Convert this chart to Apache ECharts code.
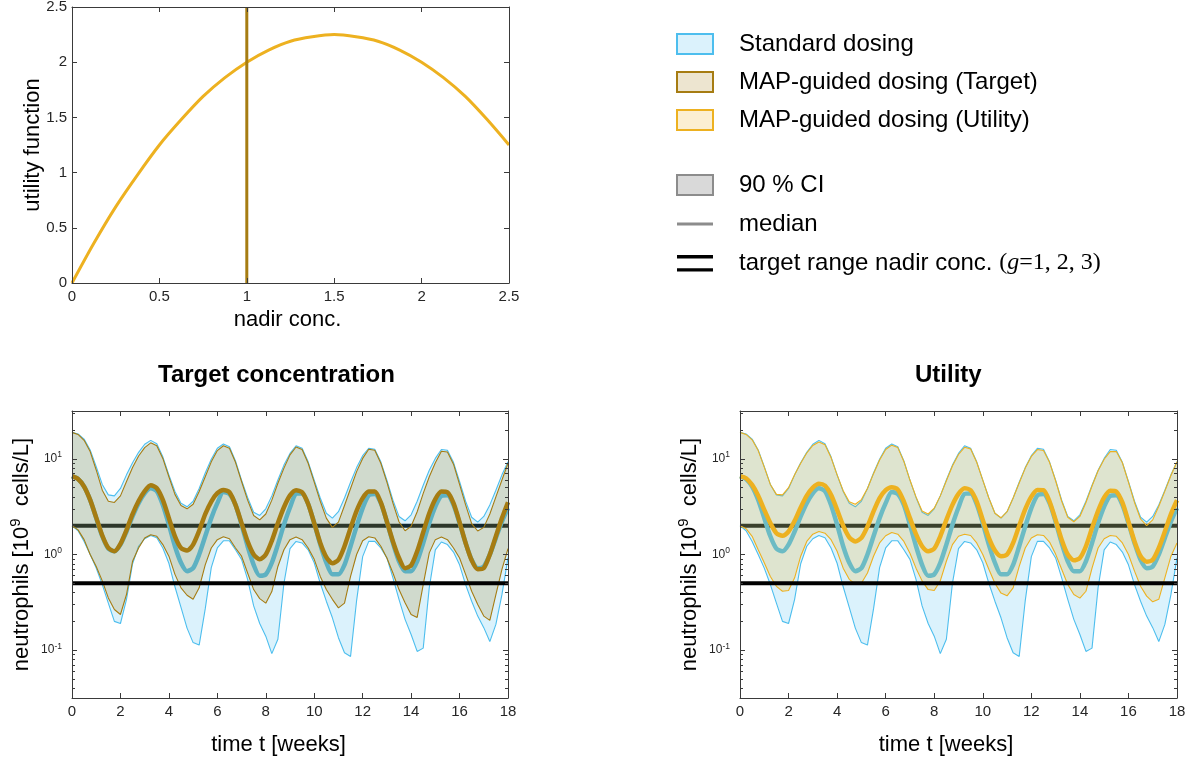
<!DOCTYPE html>
<html>
<head>
<meta charset="utf-8">
<script src="https://cdn.jsdelivr.net/npm/echarts@6/dist/echarts.min.js"></script>
<style>
html,body{margin:0;padding:0;background:#fff;}
#chart{width:1195px;height:761px;}
</style>
</head>
<body>
<div id="chart"></div>
<script>
// ---------------- data ----------------
const nadirConc = [0,0.125,0.25,0.375,0.5,0.625,0.75,0.875,1,1.125,1.25,1.375,1.5,1.625,1.75,1.875,2,2.125,2.25,2.375,2.5];
const utilityValues = [0,0.36,0.69,0.98,1.25,1.48,1.69,1.86,2.0,2.11,2.19,2.23,2.25,2.23,2.19,2.11,2.0,1.86,1.69,1.48,1.25];
const targetNadir = 1;

const weeks = [0,0.25,0.5,0.75,1,1.25,1.5,1.75,2,2.25,2.5,2.75,3,3.25,3.5,3.75,4,4.25,4.5,4.75,5,5.25,5.5,5.75,6,6.25,6.5,6.75,7,7.25,7.5,7.75,8,8.25,8.5,8.75,9,9.25,9.5,9.75,10,10.25,10.5,10.75,11,11.25,11.5,11.75,12,12.25,12.5,12.75,13,13.25,13.5,13.75,14,14.25,14.5,14.75,15,15.25,15.5,15.75,16,16.25,16.5,16.75,17,17.25,17.5,17.75,18];

const stdUpper = [
18.9,18.2,16.1,12.4, 8.3,5.4,4.2,4.1, 4.9,6.8,9.1,11.7, 14.2,15.6,14.4,10.5,
6.8,4.55,3.44,3.15, 3.6,4.9,7.1,9.9, 12.9,14.3,13.4,9.5, 6.0,3.95,2.77,2.56,
3.0,4.1,6.0,8.6, 11.4,13.7,12.9,9.3, 6.0,3.9,2.7,2.4, 2.8,3.9,5.7,8.1,
10.8,12.9,12.6,9.3, 6.0,3.7,2.5,2.25, 2.6,3.6,5.3,7.6, 10.1,12.5,12.3,9.2,
5.8,3.6,2.45,2.18, 2.5,3.3,4.7,6.8, 9.3];
const stdMedian = [
6.6,6.15,5.13,3.72, 2.4,1.55,1.15,1.08, 1.27,1.74,2.5,3.44, 4.37,4.93,4.6,3.3,
2.05,1.22,0.82,0.67, 0.72,1.0,1.55,2.4, 3.44,4.5,4.3,3.3, 2.05,1.22,0.78,0.6,
0.62,0.82,1.27,2.05, 3.1,4.3,4.35,3.37, 2.13,1.27,0.82,0.62, 0.62,0.78,1.22,1.97,
3.05,4.15,4.3,3.44, 2.2,1.32,0.85,0.67, 0.67,0.85,1.32,2.13, 3.17,4.1,4.15,3.3,
2.13,1.32,0.88,0.72, 0.75,1.0,1.49,2.21, 3.05];
const stdLower = [
2.0,1.77,1.37,1.0, 0.72,0.485,0.31,0.2, 0.19,0.34,0.8,1.22, 1.46,1.58,1.5,1.17,
0.81,0.46,0.28,0.17, 0.12,0.113,0.27,0.73, 1.17,1.39,1.39,1.12, 0.89,0.55,0.29,0.19,
0.14,0.092,0.13,0.5, 1.15,1.37,1.32,1.12, 0.82,0.5,0.325,0.218, 0.135,0.094,0.086,0.33,
0.95,1.37,1.37,1.17, 0.92,0.57,0.34,0.21, 0.146,0.097,0.105,0.45, 1.12,1.35,1.27,1.06,
0.78,0.485,0.325,0.227, 0.172,0.123,0.186,0.38, 0.92];

const tgtUpper = [
18.9,18.0,15.6,11.9, 7.65,4.7,3.6,3.5, 4.1,5.8,8.1,10.7, 13.1,14.7,13.7,10.1,
6.5,4.25,3.25,3.0, 3.35,4.55,6.5,9.3, 12.2,13.7,12.9,9.2, 5.8,3.7,2.56,2.3,
2.65,3.7,5.55,8.0, 11.0,13.3,12.5,9.0, 5.7,3.6,2.4,1.92, 2.18,3.25,4.9,7.35,
10.1,12.6,12.3,9.0, 5.7,3.45,2.2,1.77, 1.97,2.8,4.35,6.5, 9.1,12.0,11.8,8.8,
5.4,3.3,2.1,1.76, 1.92,2.65,4.0,6.0, 9.0];
const tgtMedian = [
6.6,6.15,5.13,3.72, 2.43,1.58,1.17,1.08, 1.29,1.8,2.64,3.62, 4.6,5.3,4.93,3.72,
2.4,1.55,1.17,1.1, 1.27,1.77,2.64,3.58, 4.37,4.73,4.47,3.3, 2.13,1.37,1.0,0.89,
1.0,1.39,2.13,3.12, 4.15,4.7,4.47,3.37, 2.13,1.32,0.94,0.81, 0.88,1.22,1.89,2.86,
3.88,4.55,4.55,3.5, 2.21,1.37,0.92,0.72, 0.77,1.08,1.71,2.7, 3.8,4.55,4.47,3.44,
2.18,1.32,0.87,0.7, 0.72,1.0,1.55,2.4, 3.52];
const tgtLower = [
2.0,1.81,1.43,1.0, 0.75,0.53,0.352,0.266, 0.236,0.382,0.85,1.17, 1.49,1.61,1.55,1.27,
0.96,0.62,0.448,0.375, 0.34,0.448,0.78,1.17, 1.43,1.53,1.46,1.17, 0.96,0.64,0.43,0.346,
0.31,0.41,0.75,1.12, 1.43,1.52,1.43,1.17, 0.89,0.59,0.43,0.34, 0.277,0.31,0.59,1.0,
1.39,1.53,1.49,1.22, 0.92,0.64,0.43,0.313, 0.236,0.22,0.485,1.04, 1.43,1.52,1.43,1.17,
0.92,0.62,0.413,0.3, 0.227,0.205,0.38,0.7, 1.15];

const utlUpper = [
18.9,18.0,15.8,12.2, 8.2,5.4,4.25,4.2, 5.0,6.8,9.0,11.5, 13.8,15.0,14.0,10.3,
6.8,4.65,3.55,3.35, 3.75,4.9,7.0,9.7, 12.5,13.9,13.1,9.4, 6.0,4.0,2.85,2.65,
3.05,4.1,5.9,8.4, 11.1,13.2,12.7,9.2, 6.0,3.9,2.7,2.42, 2.8,3.9,5.6,8.0,
10.6,12.5,12.2,9.2, 5.9,3.6,2.45,2.2, 2.5,3.5,5.2,7.5, 9.9,11.9,11.9,9.1,
5.7,3.5,2.35,2.0, 2.3,3.2,4.6,6.7, 9.3];
const utlMedian = [
6.6,6.27,5.34,4.12, 2.93,2.13,1.67,1.57, 1.74,2.25,3.1,4.12, 5.0,5.5,5.24,4.2,
2.93,2.0,1.51,1.37, 1.49,1.96,2.82,3.88, 4.7,5.06,4.77,3.58, 2.4,1.63,1.22,1.08,
1.15,1.55,2.3,3.3, 4.3,4.93,4.7,3.58, 2.3,1.49,1.1,0.96, 1.0,1.32,2.0,2.98,
4.03,4.73,4.7,3.58, 2.3,1.43,1.0,0.87, 0.92,1.22,1.89,2.86, 3.95,4.65,4.55,3.5,
2.21,1.37,0.96,0.84, 0.88,1.17,1.74,2.64, 3.69];
const utlLower = [
2.0,1.86,1.55,1.12, 0.82,0.59,0.465,0.413, 0.42,0.57,0.96,1.37, 1.63,1.74,1.67,1.43,
1.08,0.72,0.55,0.49, 0.5,0.64,0.96,1.32, 1.57,1.7,1.63,1.37, 1.03,0.72,0.53,0.43,
0.42,0.53,0.85,1.27, 1.55,1.63,1.58,1.32, 1.0,0.7,0.5,0.395, 0.37,0.448,0.75,1.17,
1.49,1.61,1.58,1.35, 1.01,0.7,0.485,0.382, 0.35,0.413,0.72,1.17, 1.46,1.58,1.55,1.32,
1.0,0.67,0.465,0.367, 0.32,0.34,0.57,0.96, 1.32];

const targetRange = [0.5, 2];           // nadir target range lines
const weekTicks = 2;
const logMajorTicks = [0.1, 1, 10];
const logMinorTicks = [0.04,0.05,0.06,0.07,0.08,0.09,0.2,0.3,0.4,0.5,0.6,0.7,0.8,0.9,2,3,4,5,6,7,8,9,20,30];

const legendTop = ['Standard dosing','MAP-guided dosing (Target)','MAP-guided dosing (Utility)'];
const legendBottom = ['90 % CI','median','target range nadir conc. (g=1, 2, 3)'];

// ---------------- styles ----------------
const FONT = '"Liberation Sans", Arial, Helvetica, sans-serif';
const SERIF = '"Liberation Serif", "DejaVu Serif", serif';
const AX = '#3a3a3a';
const LBL = '#262626';
const C_STD = '#4DBEEE', F_STD = 'rgba(77,190,238,0.2)';
const C_TGT = '#A67C12', F_TGT = 'rgba(166,124,18,0.2)';
const C_UTL = '#EDB120', F_UTL = 'rgba(237,177,32,0.2)';
const yLogMin = Math.pow(10, -1.5), yLogMax = Math.pow(10, 1.5);

const pairs = (xs, ys) => xs.map((x, i) => [x, ys[i]]);

function xBottom(gridIndex, min, max, interval, name, nameGap, namePad) {
  return {
    type: 'value', gridIndex, position: 'bottom', min, max, interval,
    name, nameLocation: 'middle', nameGap, nameMoveOverlap: false,
    nameTextStyle: {fontSize: 22, color: '#000', fontFamily: FONT, padding: namePad},
    axisLine: {show: true, onZero: false, lineStyle: {color: AX, width: 1}},
    axisTick: {show: true, inside: true, length: 5, lineStyle: {color: AX, width: 1}},
    axisLabel: {show: true, margin: 6, fontSize: 15, color: LBL, fontFamily: FONT},
    splitLine: {show: false}, minorTick: {show: false}, z: 20
  };
}
function xTop(gridIndex, min, max, interval) {
  return {
    type: 'value', gridIndex, position: 'top', min, max, interval,
    axisLine: {show: true, onZero: false, lineStyle: {color: AX, width: 1}},
    axisTick: {show: true, inside: true, length: 5, lineStyle: {color: AX, width: 1}},
    axisLabel: {show: false}, splitLine: {show: false}, z: 20
  };
}
function logAxis(gridIndex, position, major, withLabels, name) {
  const a = {
    type: 'log', logBase: 10, gridIndex, position, min: yLogMin, max: yLogMax, z: 20,
    axisLine: {show: major, onZero: false, lineStyle: {color: AX, width: 1}},
    axisTick: {show: true, inside: true, length: major ? 5 : 3,
      customValues: major ? logMajorTicks : logMinorTicks, lineStyle: {color: AX, width: 1}},
    axisLabel: {show: false},
    splitLine: {show: false}, minorTick: {show: false}
  };
  if (withLabels) {
    a.axisLabel = {
      show: true, customValues: logMajorTicks, margin: 10,
      formatter: v => '{b|10}{s|' + Math.round(Math.log10(v)) + '}',
      rich: {
        b: {fontSize: 12, fontFamily: FONT, color: LBL},
        s: {fontSize: 8.5, fontFamily: FONT, color: LBL, padding: [0, 0, 8, 0]}
      }
    };
    a.name = name;
    a.nameLocation = 'middle';
    a.nameGap = 37;
    a.nameMoveOverlap = false;
    a.nameTextStyle = {
      fontSize: 22, color: '#000', fontFamily: FONT,
      rich: {s: {fontSize: 15, fontFamily: FONT, color: '#000', padding: [0, 0, 12, 0]}}
    };
  }
  return a;
}

// CI band: filled polygon between upper and lower through the axes' scales, plus edge lines
function bandSeries(name, lower, upper, edge, fill, xi, yi, z) {
  return [
    {name, type: 'custom', coordinateSystem: 'cartesian2d', xAxisIndex: xi, yAxisIndex: yi, z,
     clip: true, silent: true, data: [[weeks[0], lower[0]]],
     renderItem: (params, api) => {
       const pts = [];
       for (let i = 0; i < weeks.length; i++) pts.push(api.coord([weeks[i], upper[i]]));
       for (let i = weeks.length - 1; i >= 0; i--) pts.push(api.coord([weeks[i], lower[i]]));
       return {type: 'polygon', shape: {points: pts}, style: {fill: fill, stroke: null}};
     }},
    {name, type: 'line', xAxisIndex: xi, yAxisIndex: yi, z: z + 1, symbol: 'none', showSymbol: false,
     silent: true, data: pairs(weeks, lower), lineStyle: {color: edge, width: 1.1}},
    {name, type: 'line', xAxisIndex: xi, yAxisIndex: yi, z: z + 1, symbol: 'none', showSymbol: false,
     silent: true, data: pairs(weeks, upper), lineStyle: {color: edge, width: 1.1}}
  ];
}
function medianLine(name, vals, color, xi, yi, z) {
  return {name, type: 'line', xAxisIndex: xi, yAxisIndex: yi, z, smooth: 0.25, symbol: 'none',
    showSymbol: false, silent: true, data: pairs(weeks, vals), lineStyle: {color, width: 4.5}};
}
function hLine(level, color, xi, yi, z) {
  return {name: '_range', type: 'line', xAxisIndex: xi, yAxisIndex: yi, z, symbol: 'none',
    showSymbol: false, silent: true,
    data: [[weeks[0], level], [weeks[weeks.length - 1], level]],
    lineStyle: {color, width: 4}};
}

const series = [
  // top-left: utility function
  {name: '_utility', type: 'line', xAxisIndex: 0, yAxisIndex: 0, smooth: 0.3, symbol: 'none',
   showSymbol: false, silent: true, data: pairs(nadirConc, utilityValues),
   lineStyle: {color: C_UTL, width: 3}},
  {name: '_target', type: 'line', xAxisIndex: 0, yAxisIndex: 0, z: 3, symbol: 'none', showSymbol: false,
   silent: true, data: [[targetNadir, 0], [targetNadir, 2.5]], lineStyle: {color: C_TGT, width: 3}},
  // bottom-left
  hLine(targetRange[1], '#000', 2, 2, 1),
  ...bandSeries(legendTop[0], stdLower, stdUpper, C_STD, F_STD, 2, 2, 2),
  medianLine('_stdMedL', stdMedian, C_STD, 2, 2, 3),
  ...bandSeries(legendTop[1], tgtLower, tgtUpper, C_TGT, F_TGT, 2, 2, 4),
  medianLine('_tgtMed', tgtMedian, C_TGT, 2, 2, 6),
  hLine(targetRange[0], '#000', 2, 2, 7),
  // bottom-right
  hLine(targetRange[1], '#000', 4, 6, 1),
  ...bandSeries(legendTop[0], stdLower, stdUpper, C_STD, F_STD, 4, 6, 2),
  medianLine('_stdMedR', stdMedian, C_STD, 4, 6, 3),
  ...bandSeries(legendTop[2], utlLower, utlUpper, C_UTL, F_UTL, 4, 6, 4),
  medianLine('_utlMed', utlMedian, C_UTL, 4, 6, 6),
  hLine(targetRange[0], '#000', 4, 6, 7),
  // legend-only entries
  {name: legendBottom[0], type: 'line', xAxisIndex: 0, yAxisIndex: 0, data: []},
  {name: legendBottom[1], type: 'line', xAxisIndex: 0, yAxisIndex: 0, data: []},
  {name: legendBottom[2], type: 'line', xAxisIndex: 0, yAxisIndex: 0, data: []}
];

const legendText = {
  fontSize: 24, fontFamily: FONT, color: '#000', padding: [0, 0, 0, 21], lineHeight: 20,
  rich: {
    n: {fontSize: 24, fontFamily: FONT, color: '#000', lineHeight: 20},
    m: {fontSize: 24, fontFamily: SERIF, color: '#000', lineHeight: 20},
    i: {fontSize: 24, fontFamily: SERIF, fontStyle: 'italic', color: '#000', lineHeight: 20}
  }
};

const option = {
  animation: false,
  backgroundColor: '#fff',
  title: [
    {text: 'Target concentration', left: 158, top: 363, padding: 0,
     textStyle: {fontSize: 24, fontWeight: 'bold', fontFamily: FONT, color: '#000'}},
    {text: 'Utility', left: 915, top: 363, padding: 0,
     textStyle: {fontSize: 24, fontWeight: 'bold', fontFamily: FONT, color: '#000'}}
  ],
  legend: [
    {orient: 'vertical', left: 676, top: 32, padding: 0, itemWidth: 36, itemHeight: 20, itemGap: 14,
     selectedMode: false, textStyle: legendText,
     data: [
       {name: legendTop[0], icon: 'rect', itemStyle: {color: F_STD, borderColor: C_STD, borderWidth: 2}},
       {name: legendTop[1], icon: 'rect', itemStyle: {color: F_TGT, borderColor: C_TGT, borderWidth: 2}},
       {name: legendTop[2], icon: 'rect', itemStyle: {color: F_UTL, borderColor: C_UTL, borderWidth: 2}}
     ]},
    {orient: 'vertical', left: 676, top: 173, padding: 0, itemWidth: 36, itemHeight: 20, itemGap: 15,
     selectedMode: false, textStyle: legendText,
     formatter: n => n === legendBottom[2]
        ? '{n|target range nadir conc. }{m|(}{i|g}{m|=1, 2, 3)}' : n,
     data: [
       {name: legendBottom[0], icon: 'rect', itemStyle: {color: '#D9D9D9', borderColor: '#8C8C8C', borderWidth: 2}},
       {name: legendBottom[1], icon: 'path://M0,0h0.01v0.01h-0.01z M0,20h0.01v0.01h-0.01z M0,8.6H36V11.4H0Z',
        itemStyle: {color: '#8C8C8C', borderWidth: 0}},
       {name: legendBottom[2], icon: 'path://M0,0h0.01v0.01h-0.01z M0,20h0.01v0.01h-0.01z M0,2.1H36V5.4H0Z M0,15.3H36V18.6H0Z',
        itemStyle: {color: '#000', borderWidth: 0}}
     ]}
  ],
  grid: [
    {left: 72, top: 7, width: 437, height: 276, outerBoundsMode: 'none', containLabel: false},
    {left: 72, top: 411, width: 436, height: 287, outerBoundsMode: 'none', containLabel: false},
    {left: 740, top: 411, width: 437, height: 287, outerBoundsMode: 'none', containLabel: false}
  ],
  xAxis: [
    xBottom(0, 0, 2.5, 0.5, 'nadir conc.', 26, [0, 6, 0, 0]),
    xTop(0, 0, 2.5, 0.5),
    xBottom(1, 0, 18, weekTicks, 'time t [weeks]', 36, [0, 23, 0, 0]),
    xTop(1, 0, 18, weekTicks),
    xBottom(2, 0, 18, weekTicks, 'time t [weeks]', 36, [0, 25, 0, 0]),
    xTop(2, 0, 18, weekTicks)
  ],
  yAxis: [
    {type: 'value', gridIndex: 0, position: 'left', min: 0, max: 2.5, interval: 0.5, z: 20,
     name: 'utility function', nameLocation: 'middle', nameGap: 28, nameMoveOverlap: false,
     nameTextStyle: {fontSize: 22, color: '#000', fontFamily: FONT},
     axisLine: {show: true, onZero: false, lineStyle: {color: AX, width: 1}},
     axisTick: {show: true, inside: true, length: 5, lineStyle: {color: AX}},
     axisLabel: {show: true, margin: 5, fontSize: 15, color: LBL, fontFamily: FONT},
     splitLine: {show: false}},
    {type: 'value', gridIndex: 0, position: 'right', min: 0, max: 2.5, interval: 0.5, z: 20,
     axisLine: {show: true, onZero: false, lineStyle: {color: AX, width: 1}},
     axisTick: {show: true, inside: true, length: 5, lineStyle: {color: AX}},
     axisLabel: {show: false}, splitLine: {show: false}},
    logAxis(1, 'left', true, true, 'neutrophils [10{s|9}  cells/L]'),
    logAxis(1, 'left', false, false),
    logAxis(1, 'right', true, false),
    logAxis(1, 'right', false, false),
    logAxis(2, 'left', true, true, 'neutrophils [10{s|9}  cells/L]'),
    logAxis(2, 'left', false, false),
    logAxis(2, 'right', true, false),
    logAxis(2, 'right', false, false)
  ],
  series
};

const chart = echarts.init(document.getElementById('chart'), null, {renderer: 'canvas'});
chart.setOption(option);
</script>
</body>
</html>
